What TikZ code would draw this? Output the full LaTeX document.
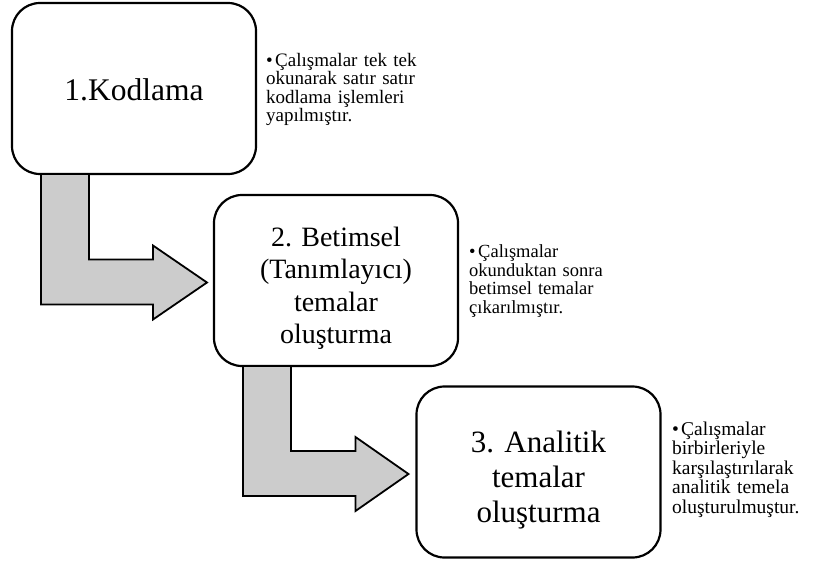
\documentclass[tikz,border=0pt]{standalone}
\usepackage{fontspec}
\setmainfont{Liberation Serif}
\usepackage{tikz}
\usetikzlibrary{calc}

\newcommand{\notebullet}{\noindent\hangindent=9pt\hangafter=1\makebox[9pt][l]{\textbullet}}
\newcommand{\boxtext}[1]{\raisebox{-8pt}[\height][\depth]{\begin{tabular}{@{}c@{}}#1\end{tabular}}}

\begin{document}
\begin{tikzpicture}[x=1pt, y=-1pt,
    main_node/.style={draw, fill=white, line width=2.2pt, rounded corners=28pt, outer sep=0pt,
        minimum width=244pt, minimum height=171pt, align=center},
    note_node/.style={anchor=north west, inner sep=0pt, text width=170pt, align=left},
    bend_arrow/.style={draw, fill=black!20, line width=1.8pt, line join=miter}]

    \useasboundingbox[fill=white] (0, 0) rectangle (824, 563);

    \node[main_node, font=\fontsize{31.5}{33}\selectfont] (1) at (134, 88.5) {\raisebox{-1.5pt}[\height][\depth]{1.Kodlama}};
    \node[main_node, font=\fontsize{28}{32.5}\selectfont] (2) at (336, 280.5) {\boxtext{2. Betimsel\\(Tanımlayıcı)\\temalar\\oluşturma}};
    \node[main_node, font=\fontsize{31}{35}\selectfont] (3) at (538.5, 472) {\boxtext{3. Analitik\\temalar\\oluşturma}};

    \node[note_node, font=\fontsize{19}{18.5}\selectfont] (4) at (266, 53) {\notebullet Çalışmalar tek tek\\okunarak satır satır\\kodlama işlemleri\\yapılmıştır.};
    \node[note_node, font=\fontsize{18.5}{18.5}\selectfont] (5) at (469, 244.5) {\notebullet Çalışmalar\\okunduktan sonra\\betimsel temalar\\çıkarılmıştır.};
    \node[note_node, font=\fontsize{19.5}{19.5}\selectfont] (6) at (672, 421.5) {\notebullet Çalışmalar\\birbirleriyle\\karşılaştırılarak\\analitik temela\\oluşturulmuştur.};

    % bent arrows from box to box
    \draw[bend_arrow] ($(1.south west)+(29,0)$) |- ($(2.west)+(-61,24)$) -- ++(0,15)
        -- ($(2.west)+(-7,2)$) -- ($(2.west)+(-61,-35)$) -- ++(0,14) -| ($(1.south west)+(77,0)$) -- cycle;
    \draw[bend_arrow] ($(2.south west)+(29,0)$) |- ($(3.west)+(-61,24)$) -- ++(0,15)
        -- ($(3.west)+(-8,2)$) -- ($(3.west)+(-61,-35)$) -- ++(0,14) -| ($(2.south west)+(77,0)$) -- cycle;

\end{tikzpicture}
\end{document}
